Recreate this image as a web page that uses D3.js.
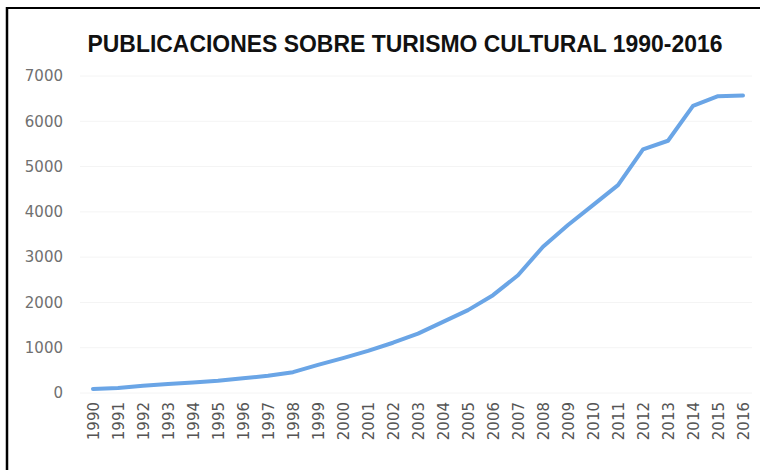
<!DOCTYPE html>
<html>
<head>
<meta charset="utf-8">
<script src="https://cdn.jsdelivr.net/npm/d3@7"></script>
<style>
  html, body { margin: 0; padding: 0; background: #fff; }
</style>
</head>
<body>
<div id="container"></div>
<script>
const years = ['1990', '1991', '1992', '1993', '1994', '1995', '1996', '1997', '1998', '1999',
  '2000', '2001', '2002', '2003', '2004', '2005', '2006', '2007', '2008', '2009',
  '2010', '2011', '2012', '2013', '2014', '2015', '2016'];
const publicaciones = [90, 110, 160, 200, 230, 270, 325, 380, 460, 620,
  770, 930, 1110, 1310, 1570, 1830, 2160, 2600, 3230, 3710,
  4150, 4590, 5380, 5570, 6340, 6555, 6570];
const yTicks = [0, 1000, 2000, 3000, 4000, 5000, 6000, 7000];
const title = 'PUBLICACIONES SOBRE TURISMO CULTURAL 1990-2016';

const width = 760;
const height = 470;

const svg = d3.select('#container')
  .append('svg')
  .attr('width', width)
  .attr('height', height);

const x = d3.scalePoint().domain(years).range([93, 743]);
const y = d3.scaleLinear().domain([0, 7000]).range([393, 76]);

// frame (left and top edges of the pasted picture)
svg.append('line')
  .attr('x1', 7).attr('x2', 7).attr('y1', 7).attr('y2', height)
  .attr('stroke', '#000').attr('stroke-width', 2.5);
svg.append('line')
  .attr('x1', 6).attr('x2', width).attr('y1', 8).attr('y2', 8)
  .attr('stroke', '#000').attr('stroke-width', 2);

// title
svg.append('text')
  .attr('x', 405)
  .attr('y', 52)
  .attr('text-anchor', 'middle')
  .attr('font-family', '"Liberation Sans", Arial, sans-serif')
  .attr('font-weight', 'bold')
  .attr('font-size', '24px')
  .attr('fill', '#111')
  .attr('textLength', 635)
  .attr('lengthAdjust', 'spacingAndGlyphs')
  .text(title);

// faint gridlines
svg.append('g')
  .selectAll('line')
  .data(yTicks)
  .join('line')
  .attr('x1', 80).attr('x2', 752)
  .attr('y1', d => y(d)).attr('y2', d => y(d))
  .attr('stroke', '#f4f4f4')
  .attr('stroke-width', 1);

// y axis labels
const yAxis = svg.append('g')
  .attr('transform', 'translate(63,0)')
  .call(d3.axisLeft(y).tickValues(yTicks).tickFormat(d3.format('d')).tickSize(0).tickPadding(0));
yAxis.select('.domain').remove();
yAxis.selectAll('text')
  .attr('font-family', '"DejaVu Sans", sans-serif')
  .attr('font-size', '15px')
  .attr('fill', '#707070');

// x axis labels
const xAxis = svg.append('g')
  .attr('transform', 'translate(0,402)')
  .call(d3.axisBottom(x).tickSize(0).tickPadding(0));
xAxis.select('.domain').remove();
xAxis.selectAll('text')
  .attr('font-family', '"DejaVu Sans", sans-serif')
  .attr('font-size', '15px')
  .attr('fill', '#555')
  .attr('transform', 'rotate(-90)')
  .attr('text-anchor', 'end')
  .attr('x', 0)
  .attr('y', 0)
  .attr('dy', '0.35em');

// line
const line = d3.line()
  .x((d, i) => x(years[i]))
  .y(d => y(d));

svg.append('path')
  .datum(publicaciones)
  .attr('d', line)
  .attr('fill', 'none')
  .attr('stroke', '#6aa5e6')
  .attr('stroke-width', 4)
  .attr('stroke-linejoin', 'round')
  .attr('stroke-linecap', 'round');
</script>
</body>
</html>
